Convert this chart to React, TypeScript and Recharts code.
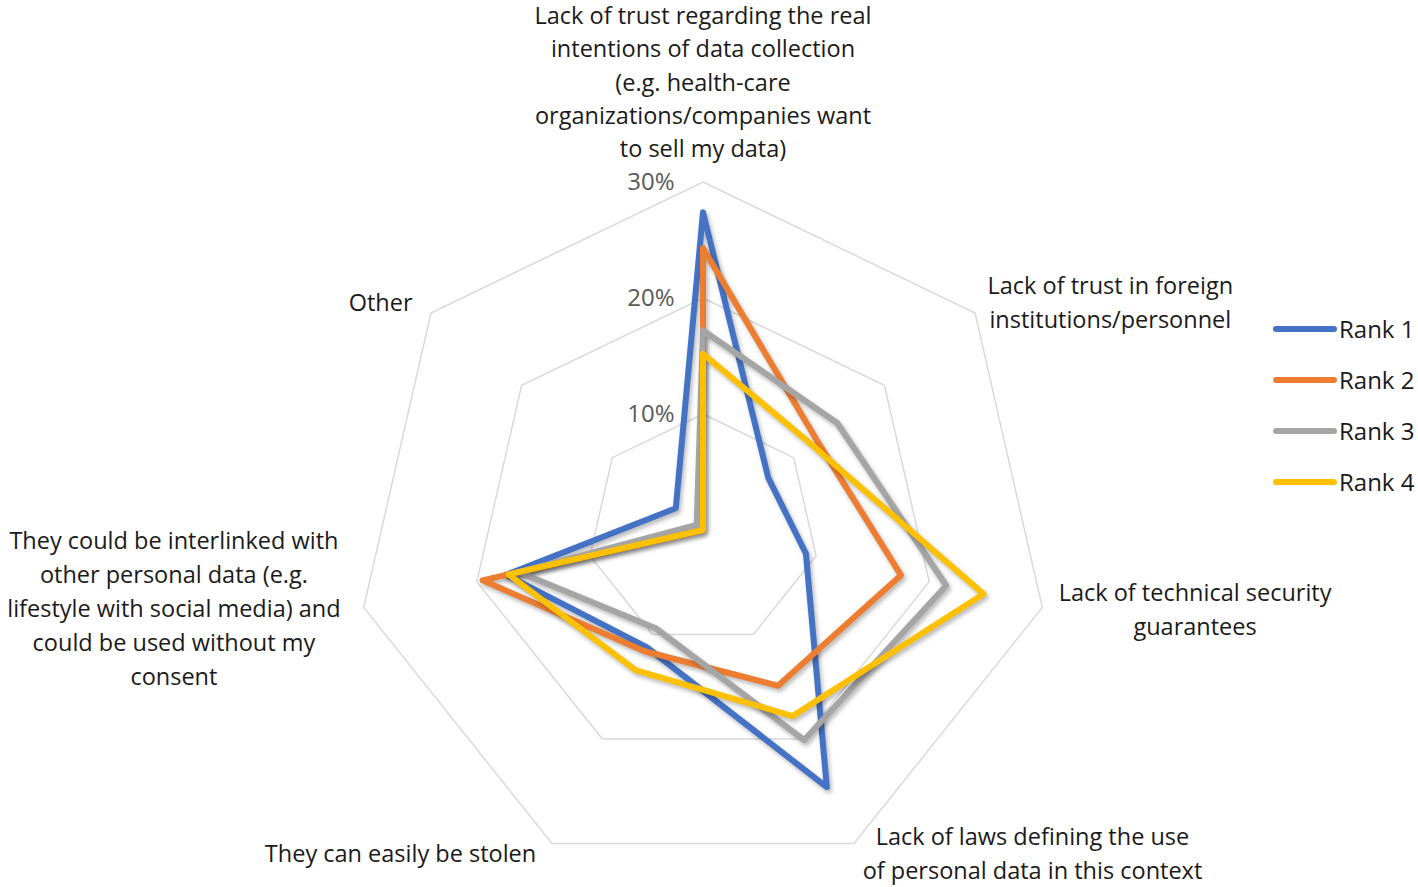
import { RadarChart, Radar, PolarGrid, PolarAngleAxis, PolarRadiusAxis, Legend } from 'recharts'

const categories = [
  'Lack of trust regarding the real intentions of data collection (e.g. health-care organizations/companies want to sell my data)',
  'Lack of trust in foreign institutions/personnel',
  'Lack of technical security guarantees',
  'Lack of laws defining the use of personal data in this context',
  'They can easily be stolen',
  'They could be interlinked with other personal data (e.g. lifestyle with social media) and could be used without my consent',
  'Other',
]

// category names as they wrap on the chart
const categoryLines = [
  ['Lack of trust regarding the real', 'intentions of data collection', '(e.g. health-care', 'organizations/companies want', 'to sell my data)'],
  ['Lack of trust in foreign', 'institutions/personnel'],
  ['Lack of technical security', 'guarantees'],
  ['Lack of laws defining the use', 'of personal data in this context'],
  ['They can easily be stolen'],
  ['They could be interlinked with', 'other personal data (e.g.', 'lifestyle with social media) and', 'could be used without my', 'consent'],
  ['Other'],
]

const seriesNames = ['Rank 1', 'Rank 2', 'Rank 3', 'Rank 4']
const rank1 = [27.4, 7.2, 9.1, 24.6, 11.2, 17.4, 3.0]
const rank2 = [24.3, 12.5, 17.5, 14.9, 11.6, 19.5, 0]
const rank3 = [17.2, 14.8, 21.5, 20.1, 9.4, 16.3, 0.7]
const rank4 = [15.2, 11.9, 24.8, 17.8, 13.4, 17.2, 0]

const radiusTicks = [0, 10, 20, 30]

const COLORS = ['#4472C4', '#ED7D31', '#A5A5A5', '#FFC000']

// where each category label sits relative to its angle-axis tick point
const LABEL_OFFSETS = [
  { dx: 0, dy: -158 },
  { dx: 129, dy: -22 },
  { dx: 145, dy: -16 },
  { dx: 175, dy: -14 },
  { dx: -148, dy: 3 },
  { dx: -182, dy: -68 },
  { dx: -44, dy: -5 },
]
const LINE_HEIGHT = 33.8

const chartData = categories.map((category, i) => ({
  category,
  r1: rank1[i],
  r2: rank2[i],
  r3: rank3[i],
  r4: rank4[i],
}))

function AngleTick(props: any) {
  const { x, y, payload } = props
  const i = categories.indexOf(payload.value)
  const off = LABEL_OFFSETS[i]
  const lines = categoryLines[i]
  const tx = x + off.dx
  const lh = i === 0 ? 33.2 : LINE_HEIGHT
  return (
    <text textAnchor="middle" fontSize={23.5} fill="#1a1a1a">
      {lines.map((line, k) => (
        <tspan key={k} x={tx} y={y + off.dy + k * lh} dy="0.35em">
          {line}
        </tspan>
      ))}
    </text>
  )
}

function RadiusTick(props: any) {
  const { x, y, payload } = props
  if (payload.value === 0) return <g />
  return (
    <text x={x - 52} y={y} dy="0.35em" textAnchor="middle" fontSize={24} fill="#595959">
      {payload.value}%
    </text>
  )
}

function renderLegend(props: any) {
  const { payload } = props
  return (
    <div>
      {(payload || []).map((entry: any) => (
        <div key={entry.value} style={{ display: 'flex', alignItems: 'center', height: 51 }}>
          <svg width={66} height={12}>
            <line x1={4} y1={6} x2={62} y2={6} stroke={entry.color} strokeWidth={6} strokeLinecap="round" />
          </svg>
          <span style={{ fontSize: 24, color: '#1a1a1a', marginLeft: 1 }}>{entry.value}</span>
        </div>
      ))}
    </div>
  )
}

export default function App() {
  return (
    <div style={{ position: 'absolute', left: 0, top: 0, fontFamily: '"Open Sans", Lato, sans-serif', background: '#fff' }}>
      <style>{`
        .recharts-radar path { stroke-linejoin: round; filter: drop-shadow(2px 3px 2px rgba(0,0,0,0.28)); }
      `}</style>
      <RadarChart
        width={1418}
        height={887}
        data={chartData}
        cx={703}
        cy={530}
        outerRadius={348}
        margin={{ top: 0, right: 0, bottom: 0, left: 0 }}
      >
        <PolarGrid gridType="polygon" radialLines={false} stroke="#d9d9d9" strokeWidth={1.5} />
        <PolarAngleAxis dataKey="category" tick={AngleTick} tickLine={false} axisLine={false} />
        <PolarRadiusAxis
          angle={90}
          domain={[0, 30]}
          ticks={radiusTicks as any}
          tickCount={4}
          tick={RadiusTick}
          axisLine={false}
          tickLine={false}
        />
        <Radar dataKey="r1" name={seriesNames[0]} stroke={COLORS[0]} strokeWidth={6} fill="none" fillOpacity={0} dot={false} isAnimationActive={false} />
        <Radar dataKey="r2" name={seriesNames[1]} stroke={COLORS[1]} strokeWidth={6} fill="none" fillOpacity={0} dot={false} isAnimationActive={false} />
        <Radar dataKey="r3" name={seriesNames[2]} stroke={COLORS[2]} strokeWidth={6} fill="none" fillOpacity={0} dot={false} isAnimationActive={false} />
        <Radar dataKey="r4" name={seriesNames[3]} stroke={COLORS[3]} strokeWidth={6} fill="none" fillOpacity={0} dot={false} isAnimationActive={false} />
        <Legend
          layout="vertical"
          verticalAlign="top"
          align="right"
          content={renderLegend}
          wrapperStyle={{ left: 1272, top: 303, right: 'auto', width: 146 }}
        />
      </RadarChart>
    </div>
  )
}
